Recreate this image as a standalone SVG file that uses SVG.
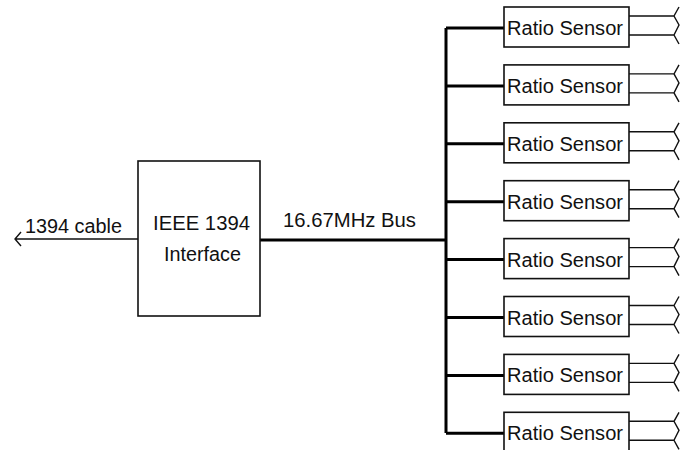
<svg xmlns="http://www.w3.org/2000/svg" width="683" height="450" viewBox="0 0 683 450">
<style>
text{font-family:"Liberation Sans",Arial,sans-serif;fill:#111}
.box{fill:#fff;stroke:#111;stroke-width:1.6}
.thin{fill:none;stroke:#111;stroke-width:1.4}
.bus{fill:none;stroke:#000;stroke-width:3}
.lbl{font-size:19.5px}
</style>
<rect width="683" height="450" fill="#fff"/>
<defs>
<g id="tail">
<path class="thin" d="M629 9H674M629 28H674M679 0L674 9L679 18L674 28L679 37"/>
</g>
</defs>
<g id="connectors">
<path class="thin" d="M138 239H16M21 232L15 239L21 246"/>
<path class="bus" d="M260 240H446M446 28V433M446 28H504M446 85.9H504M446 143.8H504M446 201.7H504M446 259.6H504M446 317.5H504M446 375.4H504M446 433.3H504"/>
<use href="#tail" y="7"/>
<use href="#tail" y="64.9"/>
<use href="#tail" y="122.8"/>
<use href="#tail" y="180.7"/>
<use href="#tail" y="238.6"/>
<use href="#tail" y="296.5"/>
<use href="#tail" y="354.4"/>
<use href="#tail" y="412.3"/>
<text x="25" y="233" class="lbl" textLength="97" lengthAdjust="spacingAndGlyphs">1394 cable</text>
<text x="283" y="227" class="lbl" textLength="133" lengthAdjust="spacingAndGlyphs">16.67MHz Bus</text>
</g>
<g id="interface">
<rect class="box" x="138" y="161" width="122" height="155"/>
<text x="153" y="230" class="lbl" textLength="97" lengthAdjust="spacingAndGlyphs">IEEE 1394</text>
<text x="164" y="261" class="lbl" textLength="77" lengthAdjust="spacingAndGlyphs">Interface</text>
</g>
<g id="sensor1"><rect class="box" x="504" y="7" width="125" height="40"/><text x="507" y="35" class="lbl" textLength="116" lengthAdjust="spacingAndGlyphs">Ratio Sensor</text></g>
<g id="sensor2"><rect class="box" x="504" y="64.9" width="125" height="40"/><text x="507" y="92.9" class="lbl" textLength="116" lengthAdjust="spacingAndGlyphs">Ratio Sensor</text></g>
<g id="sensor3"><rect class="box" x="504" y="122.8" width="125" height="40"/><text x="507" y="150.8" class="lbl" textLength="116" lengthAdjust="spacingAndGlyphs">Ratio Sensor</text></g>
<g id="sensor4"><rect class="box" x="504" y="180.7" width="125" height="40"/><text x="507" y="208.7" class="lbl" textLength="116" lengthAdjust="spacingAndGlyphs">Ratio Sensor</text></g>
<g id="sensor5"><rect class="box" x="504" y="238.6" width="125" height="40"/><text x="507" y="266.6" class="lbl" textLength="116" lengthAdjust="spacingAndGlyphs">Ratio Sensor</text></g>
<g id="sensor6"><rect class="box" x="504" y="296.5" width="125" height="40"/><text x="507" y="324.5" class="lbl" textLength="116" lengthAdjust="spacingAndGlyphs">Ratio Sensor</text></g>
<g id="sensor7"><rect class="box" x="504" y="354.4" width="125" height="40"/><text x="507" y="382.4" class="lbl" textLength="116" lengthAdjust="spacingAndGlyphs">Ratio Sensor</text></g>
<g id="sensor8"><rect class="box" x="504" y="412.3" width="125" height="40"/><text x="507" y="440.3" class="lbl" textLength="116" lengthAdjust="spacingAndGlyphs">Ratio Sensor</text></g>
</svg>
